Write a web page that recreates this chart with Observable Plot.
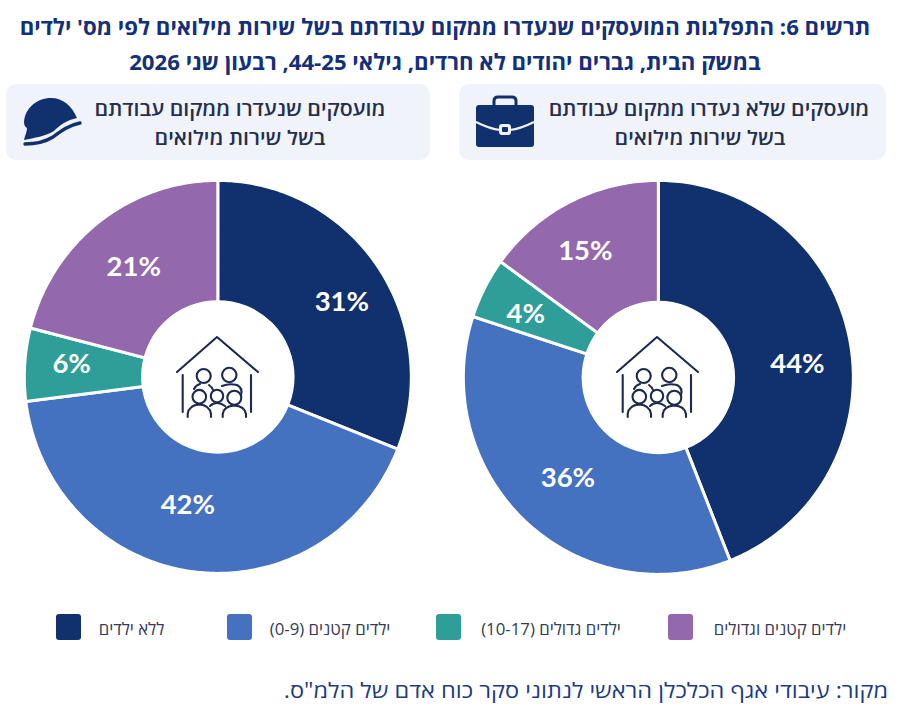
<!DOCTYPE html>
<html lang="he">
<head>
<meta charset="utf-8">
<script src="https://cdn.jsdelivr.net/npm/d3@7"></script>
<script src="https://cdn.jsdelivr.net/npm/@observablehq/plot@0.6"></script>
<style>
  html,body{margin:0;padding:0;background:#fff;}
  #page{position:relative;width:900px;height:722px;overflow:hidden;font-family:"Open Sans","Liberation Sans","DejaVu Sans",sans-serif;}
  .abs{position:absolute;white-space:nowrap;}
  .t{color:#14307a;font-weight:700;font-size:22.2px;direction:rtl;transform:translate(-50%,-50%);}
  .h{color:#252f4e;font-weight:600;font-size:19.5px;direction:rtl;transform:translate(-50%,-50%) scaleX(1.09);}
  .box{background:#f0f3fa;border-radius:10px;}
  .sw{border-radius:3px;width:25px;height:26px;}
  .lg{color:#333b55;font-size:16.8px;direction:rtl;transform:translate(-50%,-50%);}
  .src{color:#1e3c80;font-size:21px;direction:rtl;transform:translate(-50%,-50%) scaleX(1.12);}
  svg.ic{position:absolute;overflow:visible;}
</style>
</head>
<body>
<div id="page"></div>
<script>
// ---- data ----
const categories = ["ללא ילדים", "ילדים קטנים (0-9)", "ילדים גדולים (10-17)", "ילדים קטנים וגדולים"];
const colors = ["#11306e", "#4472c0", "#2f9e98", "#9468ad"];
// printed percentages
const notSeparatedLabels = [44, 36, 4, 15];
const separatedLabels = [31, 42, 6, 21];
// slice sizes as drawn in the picture (the 4% slice is drawn about 5% wide)
const notSeparatedArcs = [44, 36, 5, 15];
const separatedArcs = [31, 42, 6, 21];
const titleLines = ["תרשים 6: התפלגות המועסקים שנעדרו ממקום עבודתם בשל שירות מילואים לפי מס' ילדים",
                    "במשק הבית, גברים יהודים לא חרדים, גילאי 44-25, רבעון שני 2026"];
const rightHeader = ["מועסקים שלא נעדרו ממקום עבודתם", "בשל שירות מילואים"];
const leftHeader = ["מועסקים שנעדרו ממקום עבודתם", "בשל שירות מילואים"];
const source = 'מקור: עיבודי אגף הכלכלן הראשי לנתוני סקר כוח אדם של הלמ"ס.';

const page = document.getElementById("page");
function place(cls, text, x, y){
  const d = document.createElement("div");
  d.className = "abs " + cls;
  d.style.left = x + "px"; d.style.top = y + "px";
  if (text != null) d.textContent = text;
  page.appendChild(d);
  return d;
}
place("t", titleLines[0], 445, 26);
place("t", titleLines[1], 445, 61);

for (const [x, w] of [[6, 424], [459, 427]]) {
  const b = place("box", null, x, 84);
  b.style.width = w + "px"; b.style.height = "76px";
}
place("h", rightHeader[0], 709, 108);
place("h", rightHeader[1], 700, 137);
place("h", leftHeader[0], 240, 108);
place("h", leftHeader[1], 240, 137);

// ---- pies ----
function slicePoints(arcs){
  const total = d3.sum(arcs);
  let acc = 0;
  const pts = [];
  arcs.forEach((v, i) => {
    const a0 = acc / total * 2 * Math.PI, a1 = (acc + v) / total * 2 * Math.PI;
    acc += v;
    const n = Math.ceil((a1 - a0) * 180 / Math.PI);
    pts.push({category: categories[i], x: 0, y: 0});
    for (let k = 0; k <= n; k++) {
      const a = a0 + (a1 - a0) * k / n;
      pts.push({category: categories[i], x: Math.sin(a), y: Math.cos(a)});
    }
    pts.push({category: categories[i], x: 0, y: 0});
  });
  return pts;
}
function labelPoints(arcs, labels, nudges){
  const total = d3.sum(arcs);
  let acc = 0;
  return arcs.map((v, i) => {
    const a = (acc + v / 2) / total * 2 * Math.PI;
    acc += v;
    return {label: labels[i] + "%", x: 0.7 * Math.sin(a), y: 0.7 * Math.cos(a), dx: nudges[i][0], dy: nudges[i][1]};
  });
}
function pie(arcs, labels, cx, cy, rx, ry, holeR, nudges){
  const pad = 1.03;
  const W = 2 * rx * pad, H = 2 * ry * pad;
  const chart = Plot.plot({
    width: W, height: H, margin: 0,
    style: {background: "transparent", position: "absolute", left: (cx - W / 2) + "px", top: (cy - H / 2) + "px"},
    x: {domain: [-pad, pad], axis: null},
    y: {domain: [-pad, pad], axis: null},
    color: {domain: categories, range: colors},
    marks: [
      Plot.line(slicePoints(arcs), {x: "x", y: "y", z: "category", fill: "category", stroke: "white", strokeWidth: 3, strokeLinejoin: "round", curve: "linear"}),
      Plot.dot([{x: 0, y: 0}], {x: "x", y: "y", r: holeR, fill: "white", stroke: "white"}),
      ...labelPoints(arcs, labels, nudges).map(l => Plot.text([l], {
        x: "x", y: "y", text: "label", dx: l.dx, dy: l.dy, fill: "white",
        fontFamily: "Lato, 'Open Sans', sans-serif", fontWeight: 700, fontSize: 27.5
      }))
    ]
  });
  page.appendChild(chart);
}
pie(separatedArcs, separatedLabels, 217, 376.5, 193.5, 196.5, 76, [[12,3],[-13,-8],[-11,-4],[-1,-1]]);
pie(notSeparatedArcs, notSeparatedLabels, 658, 377, 195, 197, 76, [[5,13],[3,0],[-11,-1],[-11,-3]]);

// ---- icons ----
function svgIcon(x, y, w, h, vb, inner){
  page.insertAdjacentHTML("beforeend", `<svg class="ic" style="left:${x}px;top:${y}px" width="${w}" height="${h}" viewBox="${vb}">${inner}</svg>`);
}
const family = `<g fill="none" stroke="#1d2a50" stroke-width="2.1" stroke-linecap="round" stroke-linejoin="round">
  <path d="M1 36 L41 1 L82 36"/>
  <path d="M6.7 39V76M75 39V76"/>
  <circle cx="27.7" cy="40" r="7"/><circle cx="53.3" cy="39" r="7.2"/>
  <circle cx="23.3" cy="60.7" r="6.8"/><circle cx="41" cy="60" r="6.2"/><circle cx="58.3" cy="61.7" r="7"/>
  <path d="M11.7 81V78Q13 69 23.3 68.5Q33.5 69 35 78V81"/>
  <path d="M34 70Q37 67 41 67Q45 67 49 70"/>
  <path d="M46.7 81V78Q48 70 58.3 69.5Q68.5 70 70 78V81"/>
  <path d="M46 50Q53 47 61 49Q67 52 65 59"/><path d="M18 53Q20 49 24 48M33 49Q36 51 37 54"/>
</g>`;
svgIcon(175.5, 336, 83, 83, "0 0 83 83", family);
svgIcon(616, 336, 83, 83, "0 0 83 83", family);
// briefcase
svgIcon(476, 94, 58, 53, "0 0 58 53", `
  <path d="M18 14V7Q18 3 22 3H36Q40 3 40 7V14" fill="none" stroke="#11306e" stroke-width="3"/>
  <rect x="0" y="11" width="58" height="42" rx="3" fill="#11306e"/>
  <path d="M0 28Q14 35 24 36M34 36Q44 35 58 28" fill="none" stroke="#f0f3fa" stroke-width="2"/>
  <rect x="23" y="30" width="12" height="11" rx="3" fill="#f0f3fa"/>
  <rect x="26" y="33" width="6" height="5" rx="1" fill="#11306e"/>`);
// helmet
svgIcon(22, 96, 60, 50, "0 0 60 50", `
  <path d="M2 26C3 12 15 2 29 2C41 2 50 10 55 22C45 24 38 29 32 35C24 40 12 42 2 44C3 39 5 36 5 32C3 31 2 29 2 26Z" fill="#11306e"/>
  <path d="M3 48C13 48 23 46 31 41C39 35 47 29 58 27" fill="none" stroke="#11306e" stroke-width="3.4" stroke-linecap="round"/>`);

// ---- legend ----
const swatchX = [56, 227, 436, 668];
const labelX = [131.5, 330, 551, 780];
categories.forEach((c, i) => {
  const s = place("sw", null, swatchX[i], 614);
  s.style.background = colors[i];
  place("lg", c, labelX[i], 628);
});
place("src", source, 586, 690);
</script>
</body>
</html>
